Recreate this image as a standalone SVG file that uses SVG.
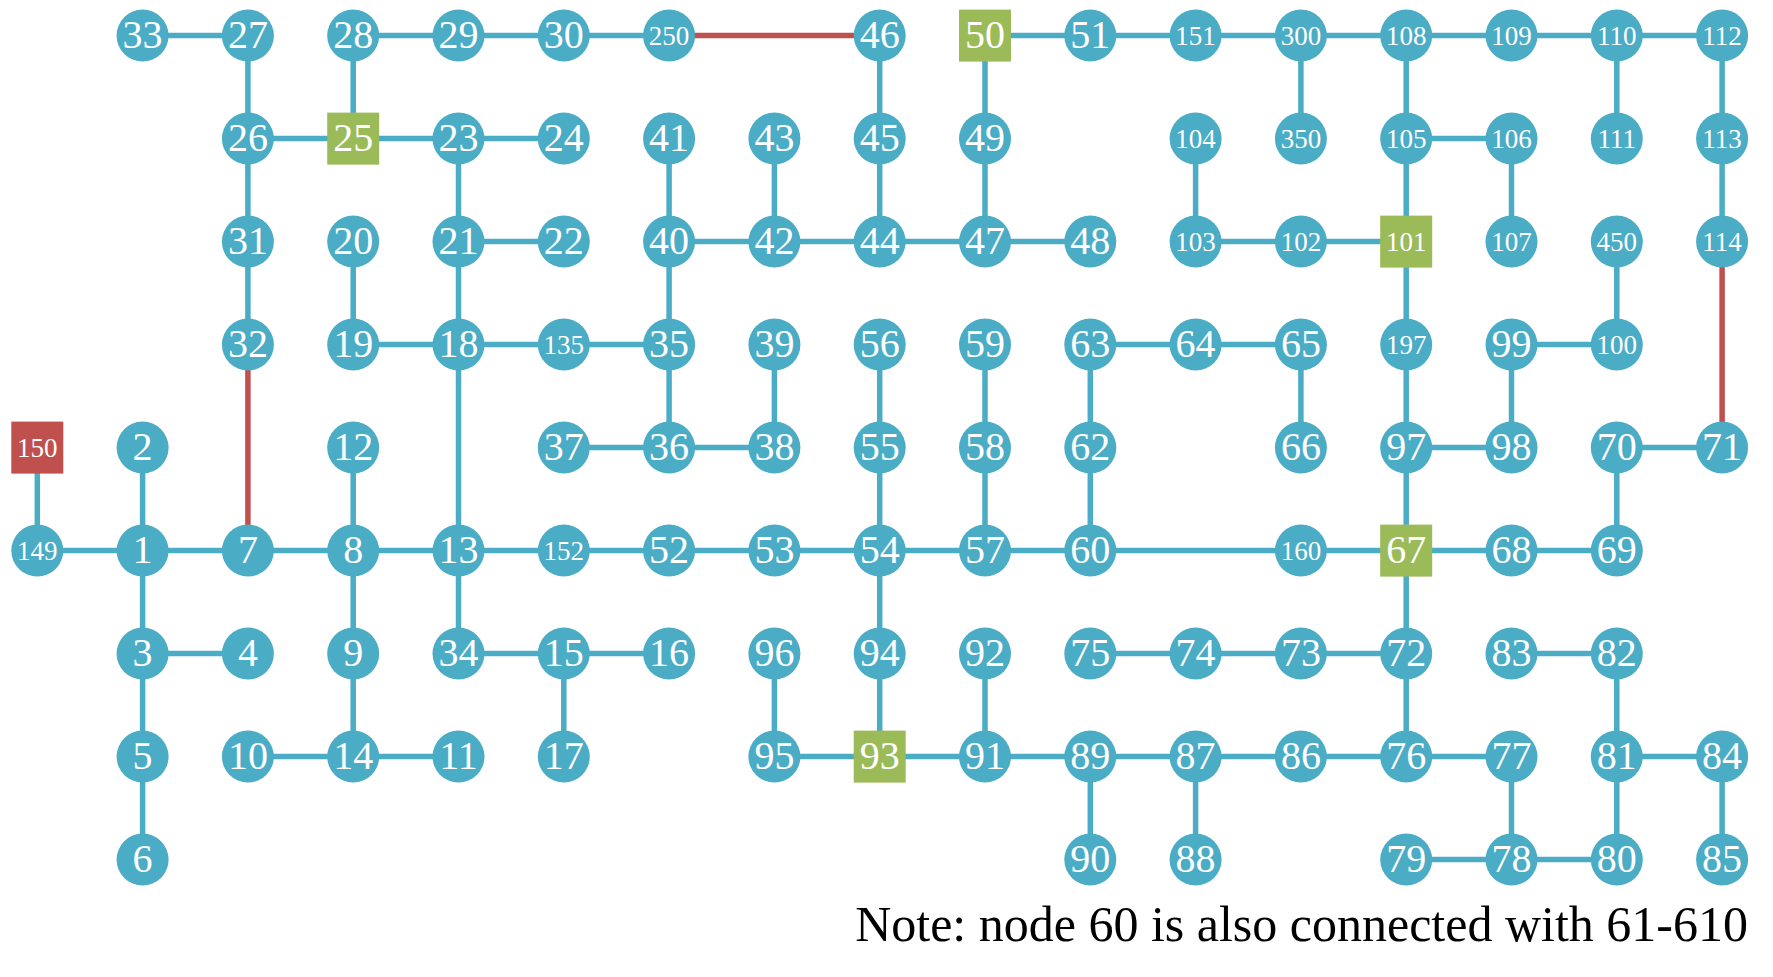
<svg xmlns="http://www.w3.org/2000/svg" width="1773" height="977" viewBox="0 0 1773 977">
<style>
.e{stroke:#4BACC6;stroke-width:5.5;fill:none}
.er{stroke:#C0504D;stroke-width:5.5;fill:none}
.n{fill:#4BACC6}
.g{fill:#9BBB59}
.r{fill:#C0504D}
text{font-family:"Liberation Serif","Times New Roman",serif;fill:#fff;text-anchor:middle}
.a{font-size:40px}
.b{font-size:27px}
.note{font-size:50px;fill:#000;text-anchor:end}
</style>
<rect width="1773" height="977" fill="#fff"/>
<g id="connectors">
<line class="e" x1="142.6" y1="35.6" x2="247.9" y2="35.6"/>
<line class="e" x1="353.2" y1="35.6" x2="669.1" y2="35.6"/>
<line class="er" x1="669.1" y1="35.6" x2="879.7" y2="35.6"/>
<line class="e" x1="985" y1="35.6" x2="1722.1" y2="35.6"/>
<line class="e" x1="247.9" y1="35.6" x2="247.9" y2="344.6"/>
<line class="e" x1="353.2" y1="35.6" x2="353.2" y2="138.6"/>
<line class="e" x1="879.7" y1="35.6" x2="879.7" y2="241.6"/>
<line class="e" x1="985" y1="35.6" x2="985" y2="241.6"/>
<line class="e" x1="1300.9" y1="35.6" x2="1300.9" y2="138.6"/>
<line class="e" x1="1406.2" y1="35.6" x2="1406.2" y2="550.6"/>
<line class="e" x1="1616.8" y1="35.6" x2="1616.8" y2="138.6"/>
<line class="e" x1="1722.1" y1="35.6" x2="1722.1" y2="241.6"/>
<line class="e" x1="247.9" y1="138.6" x2="563.8" y2="138.6"/>
<line class="e" x1="1406.2" y1="138.6" x2="1511.5" y2="138.6"/>
<line class="e" x1="458.5" y1="138.6" x2="458.5" y2="550.6"/>
<line class="e" x1="669.1" y1="138.6" x2="669.1" y2="447.6"/>
<line class="e" x1="774.4" y1="138.6" x2="774.4" y2="241.6"/>
<line class="e" x1="1195.6" y1="138.6" x2="1195.6" y2="241.6"/>
<line class="e" x1="1511.5" y1="138.6" x2="1511.5" y2="241.6"/>
<line class="e" x1="458.5" y1="241.6" x2="563.8" y2="241.6"/>
<line class="e" x1="669.1" y1="241.6" x2="1090.3" y2="241.6"/>
<line class="e" x1="1195.6" y1="241.6" x2="1406.2" y2="241.6"/>
<line class="e" x1="353.2" y1="241.6" x2="353.2" y2="344.6"/>
<line class="e" x1="1616.8" y1="241.6" x2="1616.8" y2="344.6"/>
<line class="er" x1="1722.1" y1="241.6" x2="1722.1" y2="447.6"/>
<line class="e" x1="353.2" y1="344.6" x2="669.1" y2="344.6"/>
<line class="e" x1="1090.3" y1="344.6" x2="1300.9" y2="344.6"/>
<line class="e" x1="1511.5" y1="344.6" x2="1616.8" y2="344.6"/>
<line class="er" x1="247.9" y1="344.6" x2="247.9" y2="550.6"/>
<line class="e" x1="774.4" y1="344.6" x2="774.4" y2="447.6"/>
<line class="e" x1="879.7" y1="344.6" x2="879.7" y2="756.6"/>
<line class="e" x1="985" y1="344.6" x2="985" y2="550.6"/>
<line class="e" x1="1090.3" y1="344.6" x2="1090.3" y2="550.6"/>
<line class="e" x1="1300.9" y1="344.6" x2="1300.9" y2="447.6"/>
<line class="e" x1="1511.5" y1="344.6" x2="1511.5" y2="447.6"/>
<line class="e" x1="563.8" y1="447.6" x2="774.4" y2="447.6"/>
<line class="e" x1="1406.2" y1="447.6" x2="1511.5" y2="447.6"/>
<line class="e" x1="1616.8" y1="447.6" x2="1722.1" y2="447.6"/>
<line class="e" x1="37.3" y1="447.6" x2="37.3" y2="550.6"/>
<line class="e" x1="142.6" y1="447.6" x2="142.6" y2="859.6"/>
<line class="e" x1="353.2" y1="447.6" x2="353.2" y2="756.6"/>
<line class="e" x1="1616.8" y1="447.6" x2="1616.8" y2="550.6"/>
<line class="e" x1="37.3" y1="550.6" x2="1616.8" y2="550.6"/>
<line class="e" x1="458.5" y1="550.6" x2="458.5" y2="653.6"/>
<line class="e" x1="1406.2" y1="550.6" x2="1406.2" y2="756.6"/>
<line class="e" x1="142.6" y1="653.6" x2="247.9" y2="653.6"/>
<line class="e" x1="458.5" y1="653.6" x2="669.1" y2="653.6"/>
<line class="e" x1="1090.3" y1="653.6" x2="1406.2" y2="653.6"/>
<line class="e" x1="1511.5" y1="653.6" x2="1616.8" y2="653.6"/>
<line class="e" x1="563.8" y1="653.6" x2="563.8" y2="756.6"/>
<line class="e" x1="774.4" y1="653.6" x2="774.4" y2="756.6"/>
<line class="e" x1="985" y1="653.6" x2="985" y2="756.6"/>
<line class="e" x1="1616.8" y1="653.6" x2="1616.8" y2="859.6"/>
<line class="e" x1="247.9" y1="756.6" x2="458.5" y2="756.6"/>
<line class="e" x1="774.4" y1="756.6" x2="1511.5" y2="756.6"/>
<line class="e" x1="1616.8" y1="756.6" x2="1722.1" y2="756.6"/>
<line class="e" x1="1090.3" y1="756.6" x2="1090.3" y2="859.6"/>
<line class="e" x1="1195.6" y1="756.6" x2="1195.6" y2="859.6"/>
<line class="e" x1="1511.5" y1="756.6" x2="1511.5" y2="859.6"/>
<line class="e" x1="1722.1" y1="756.6" x2="1722.1" y2="859.6"/>
<line class="e" x1="1406.2" y1="859.6" x2="1616.8" y2="859.6"/>
</g>
<g id="nodes">
<!-- row 0 -->
<g id="n33"><circle class="n" cx="142.6" cy="35.6" r="26"/><text class="a" x="142.6" y="47.6">33</text></g>
<g id="n27"><circle class="n" cx="247.9" cy="35.6" r="26"/><text class="a" x="247.9" y="47.6">27</text></g>
<g id="n28"><circle class="n" cx="353.2" cy="35.6" r="26"/><text class="a" x="353.2" y="47.6">28</text></g>
<g id="n29"><circle class="n" cx="458.5" cy="35.6" r="26"/><text class="a" x="458.5" y="47.6">29</text></g>
<g id="n30"><circle class="n" cx="563.8" cy="35.6" r="26"/><text class="a" x="563.8" y="47.6">30</text></g>
<g id="n250"><circle class="n" cx="669.1" cy="35.6" r="26"/><text class="b" x="669.1" y="44.6">250</text></g>
<g id="n46"><circle class="n" cx="879.7" cy="35.6" r="26"/><text class="a" x="879.7" y="47.6">46</text></g>
<g id="n50"><rect class="g" x="959" y="9.6" width="52" height="52"/><text class="a" x="985" y="47.6">50</text></g>
<g id="n51"><circle class="n" cx="1090.3" cy="35.6" r="26"/><text class="a" x="1090.3" y="47.6">51</text></g>
<g id="n151"><circle class="n" cx="1195.6" cy="35.6" r="26"/><text class="b" x="1195.6" y="44.6">151</text></g>
<g id="n300"><circle class="n" cx="1300.9" cy="35.6" r="26"/><text class="b" x="1300.9" y="44.6">300</text></g>
<g id="n108"><circle class="n" cx="1406.2" cy="35.6" r="26"/><text class="b" x="1406.2" y="44.6">108</text></g>
<g id="n109"><circle class="n" cx="1511.5" cy="35.6" r="26"/><text class="b" x="1511.5" y="44.6">109</text></g>
<g id="n110"><circle class="n" cx="1616.8" cy="35.6" r="26"/><text class="b" x="1616.8" y="44.6">110</text></g>
<g id="n112"><circle class="n" cx="1722.1" cy="35.6" r="26"/><text class="b" x="1722.1" y="44.6">112</text></g>
<!-- row 1 -->
<g id="n26"><circle class="n" cx="247.9" cy="138.6" r="26"/><text class="a" x="247.9" y="150.6">26</text></g>
<g id="n25"><rect class="g" x="327.2" y="112.6" width="52" height="52"/><text class="a" x="353.2" y="150.6">25</text></g>
<g id="n23"><circle class="n" cx="458.5" cy="138.6" r="26"/><text class="a" x="458.5" y="150.6">23</text></g>
<g id="n24"><circle class="n" cx="563.8" cy="138.6" r="26"/><text class="a" x="563.8" y="150.6">24</text></g>
<g id="n41"><circle class="n" cx="669.1" cy="138.6" r="26"/><text class="a" x="669.1" y="150.6">41</text></g>
<g id="n43"><circle class="n" cx="774.4" cy="138.6" r="26"/><text class="a" x="774.4" y="150.6">43</text></g>
<g id="n45"><circle class="n" cx="879.7" cy="138.6" r="26"/><text class="a" x="879.7" y="150.6">45</text></g>
<g id="n49"><circle class="n" cx="985" cy="138.6" r="26"/><text class="a" x="985" y="150.6">49</text></g>
<g id="n104"><circle class="n" cx="1195.6" cy="138.6" r="26"/><text class="b" x="1195.6" y="147.6">104</text></g>
<g id="n350"><circle class="n" cx="1300.9" cy="138.6" r="26"/><text class="b" x="1300.9" y="147.6">350</text></g>
<g id="n105"><circle class="n" cx="1406.2" cy="138.6" r="26"/><text class="b" x="1406.2" y="147.6">105</text></g>
<g id="n106"><circle class="n" cx="1511.5" cy="138.6" r="26"/><text class="b" x="1511.5" y="147.6">106</text></g>
<g id="n111"><circle class="n" cx="1616.8" cy="138.6" r="26"/><text class="b" x="1616.8" y="147.6">111</text></g>
<g id="n113"><circle class="n" cx="1722.1" cy="138.6" r="26"/><text class="b" x="1722.1" y="147.6">113</text></g>
<!-- row 2 -->
<g id="n31"><circle class="n" cx="247.9" cy="241.6" r="26"/><text class="a" x="247.9" y="253.6">31</text></g>
<g id="n20"><circle class="n" cx="353.2" cy="241.6" r="26"/><text class="a" x="353.2" y="253.6">20</text></g>
<g id="n21"><circle class="n" cx="458.5" cy="241.6" r="26"/><text class="a" x="458.5" y="253.6">21</text></g>
<g id="n22"><circle class="n" cx="563.8" cy="241.6" r="26"/><text class="a" x="563.8" y="253.6">22</text></g>
<g id="n40"><circle class="n" cx="669.1" cy="241.6" r="26"/><text class="a" x="669.1" y="253.6">40</text></g>
<g id="n42"><circle class="n" cx="774.4" cy="241.6" r="26"/><text class="a" x="774.4" y="253.6">42</text></g>
<g id="n44"><circle class="n" cx="879.7" cy="241.6" r="26"/><text class="a" x="879.7" y="253.6">44</text></g>
<g id="n47"><circle class="n" cx="985" cy="241.6" r="26"/><text class="a" x="985" y="253.6">47</text></g>
<g id="n48"><circle class="n" cx="1090.3" cy="241.6" r="26"/><text class="a" x="1090.3" y="253.6">48</text></g>
<g id="n103"><circle class="n" cx="1195.6" cy="241.6" r="26"/><text class="b" x="1195.6" y="250.6">103</text></g>
<g id="n102"><circle class="n" cx="1300.9" cy="241.6" r="26"/><text class="b" x="1300.9" y="250.6">102</text></g>
<g id="n101"><rect class="g" x="1380.2" y="215.6" width="52" height="52"/><text class="b" x="1406.2" y="250.6">101</text></g>
<g id="n107"><circle class="n" cx="1511.5" cy="241.6" r="26"/><text class="b" x="1511.5" y="250.6">107</text></g>
<g id="n450"><circle class="n" cx="1616.8" cy="241.6" r="26"/><text class="b" x="1616.8" y="250.6">450</text></g>
<g id="n114"><circle class="n" cx="1722.1" cy="241.6" r="26"/><text class="b" x="1722.1" y="250.6">114</text></g>
<!-- row 3 -->
<g id="n32"><circle class="n" cx="247.9" cy="344.6" r="26"/><text class="a" x="247.9" y="356.6">32</text></g>
<g id="n19"><circle class="n" cx="353.2" cy="344.6" r="26"/><text class="a" x="353.2" y="356.6">19</text></g>
<g id="n18"><circle class="n" cx="458.5" cy="344.6" r="26"/><text class="a" x="458.5" y="356.6">18</text></g>
<g id="n135"><circle class="n" cx="563.8" cy="344.6" r="26"/><text class="b" x="563.8" y="353.6">135</text></g>
<g id="n35"><circle class="n" cx="669.1" cy="344.6" r="26"/><text class="a" x="669.1" y="356.6">35</text></g>
<g id="n39"><circle class="n" cx="774.4" cy="344.6" r="26"/><text class="a" x="774.4" y="356.6">39</text></g>
<g id="n56"><circle class="n" cx="879.7" cy="344.6" r="26"/><text class="a" x="879.7" y="356.6">56</text></g>
<g id="n59"><circle class="n" cx="985" cy="344.6" r="26"/><text class="a" x="985" y="356.6">59</text></g>
<g id="n63"><circle class="n" cx="1090.3" cy="344.6" r="26"/><text class="a" x="1090.3" y="356.6">63</text></g>
<g id="n64"><circle class="n" cx="1195.6" cy="344.6" r="26"/><text class="a" x="1195.6" y="356.6">64</text></g>
<g id="n65"><circle class="n" cx="1300.9" cy="344.6" r="26"/><text class="a" x="1300.9" y="356.6">65</text></g>
<g id="n197"><circle class="n" cx="1406.2" cy="344.6" r="26"/><text class="b" x="1406.2" y="353.6">197</text></g>
<g id="n99"><circle class="n" cx="1511.5" cy="344.6" r="26"/><text class="a" x="1511.5" y="356.6">99</text></g>
<g id="n100"><circle class="n" cx="1616.8" cy="344.6" r="26"/><text class="b" x="1616.8" y="353.6">100</text></g>
<!-- row 4 -->
<g id="n150"><rect class="r" x="11.3" y="421.6" width="52" height="52"/><text class="b" x="37.3" y="456.6">150</text></g>
<g id="n2"><circle class="n" cx="142.6" cy="447.6" r="26"/><text class="a" x="142.6" y="459.6">2</text></g>
<g id="n12"><circle class="n" cx="353.2" cy="447.6" r="26"/><text class="a" x="353.2" y="459.6">12</text></g>
<g id="n37"><circle class="n" cx="563.8" cy="447.6" r="26"/><text class="a" x="563.8" y="459.6">37</text></g>
<g id="n36"><circle class="n" cx="669.1" cy="447.6" r="26"/><text class="a" x="669.1" y="459.6">36</text></g>
<g id="n38"><circle class="n" cx="774.4" cy="447.6" r="26"/><text class="a" x="774.4" y="459.6">38</text></g>
<g id="n55"><circle class="n" cx="879.7" cy="447.6" r="26"/><text class="a" x="879.7" y="459.6">55</text></g>
<g id="n58"><circle class="n" cx="985" cy="447.6" r="26"/><text class="a" x="985" y="459.6">58</text></g>
<g id="n62"><circle class="n" cx="1090.3" cy="447.6" r="26"/><text class="a" x="1090.3" y="459.6">62</text></g>
<g id="n66"><circle class="n" cx="1300.9" cy="447.6" r="26"/><text class="a" x="1300.9" y="459.6">66</text></g>
<g id="n97"><circle class="n" cx="1406.2" cy="447.6" r="26"/><text class="a" x="1406.2" y="459.6">97</text></g>
<g id="n98"><circle class="n" cx="1511.5" cy="447.6" r="26"/><text class="a" x="1511.5" y="459.6">98</text></g>
<g id="n70"><circle class="n" cx="1616.8" cy="447.6" r="26"/><text class="a" x="1616.8" y="459.6">70</text></g>
<g id="n71"><circle class="n" cx="1722.1" cy="447.6" r="26"/><text class="a" x="1722.1" y="459.6">71</text></g>
<!-- row 5 -->
<g id="n149"><circle class="n" cx="37.3" cy="550.6" r="26"/><text class="b" x="37.3" y="559.6">149</text></g>
<g id="n1"><circle class="n" cx="142.6" cy="550.6" r="26"/><text class="a" x="142.6" y="562.6">1</text></g>
<g id="n7"><circle class="n" cx="247.9" cy="550.6" r="26"/><text class="a" x="247.9" y="562.6">7</text></g>
<g id="n8"><circle class="n" cx="353.2" cy="550.6" r="26"/><text class="a" x="353.2" y="562.6">8</text></g>
<g id="n13"><circle class="n" cx="458.5" cy="550.6" r="26"/><text class="a" x="458.5" y="562.6">13</text></g>
<g id="n152"><circle class="n" cx="563.8" cy="550.6" r="26"/><text class="b" x="563.8" y="559.6">152</text></g>
<g id="n52"><circle class="n" cx="669.1" cy="550.6" r="26"/><text class="a" x="669.1" y="562.6">52</text></g>
<g id="n53"><circle class="n" cx="774.4" cy="550.6" r="26"/><text class="a" x="774.4" y="562.6">53</text></g>
<g id="n54"><circle class="n" cx="879.7" cy="550.6" r="26"/><text class="a" x="879.7" y="562.6">54</text></g>
<g id="n57"><circle class="n" cx="985" cy="550.6" r="26"/><text class="a" x="985" y="562.6">57</text></g>
<g id="n60"><circle class="n" cx="1090.3" cy="550.6" r="26"/><text class="a" x="1090.3" y="562.6">60</text></g>
<g id="n160"><circle class="n" cx="1300.9" cy="550.6" r="26"/><text class="b" x="1300.9" y="559.6">160</text></g>
<g id="n67"><rect class="g" x="1380.2" y="524.6" width="52" height="52"/><text class="a" x="1406.2" y="562.6">67</text></g>
<g id="n68"><circle class="n" cx="1511.5" cy="550.6" r="26"/><text class="a" x="1511.5" y="562.6">68</text></g>
<g id="n69"><circle class="n" cx="1616.8" cy="550.6" r="26"/><text class="a" x="1616.8" y="562.6">69</text></g>
<!-- row 6 -->
<g id="n3"><circle class="n" cx="142.6" cy="653.6" r="26"/><text class="a" x="142.6" y="665.6">3</text></g>
<g id="n4"><circle class="n" cx="247.9" cy="653.6" r="26"/><text class="a" x="247.9" y="665.6">4</text></g>
<g id="n9"><circle class="n" cx="353.2" cy="653.6" r="26"/><text class="a" x="353.2" y="665.6">9</text></g>
<g id="n34"><circle class="n" cx="458.5" cy="653.6" r="26"/><text class="a" x="458.5" y="665.6">34</text></g>
<g id="n15"><circle class="n" cx="563.8" cy="653.6" r="26"/><text class="a" x="563.8" y="665.6">15</text></g>
<g id="n16"><circle class="n" cx="669.1" cy="653.6" r="26"/><text class="a" x="669.1" y="665.6">16</text></g>
<g id="n96"><circle class="n" cx="774.4" cy="653.6" r="26"/><text class="a" x="774.4" y="665.6">96</text></g>
<g id="n94"><circle class="n" cx="879.7" cy="653.6" r="26"/><text class="a" x="879.7" y="665.6">94</text></g>
<g id="n92"><circle class="n" cx="985" cy="653.6" r="26"/><text class="a" x="985" y="665.6">92</text></g>
<g id="n75"><circle class="n" cx="1090.3" cy="653.6" r="26"/><text class="a" x="1090.3" y="665.6">75</text></g>
<g id="n74"><circle class="n" cx="1195.6" cy="653.6" r="26"/><text class="a" x="1195.6" y="665.6">74</text></g>
<g id="n73"><circle class="n" cx="1300.9" cy="653.6" r="26"/><text class="a" x="1300.9" y="665.6">73</text></g>
<g id="n72"><circle class="n" cx="1406.2" cy="653.6" r="26"/><text class="a" x="1406.2" y="665.6">72</text></g>
<g id="n83"><circle class="n" cx="1511.5" cy="653.6" r="26"/><text class="a" x="1511.5" y="665.6">83</text></g>
<g id="n82"><circle class="n" cx="1616.8" cy="653.6" r="26"/><text class="a" x="1616.8" y="665.6">82</text></g>
<!-- row 7 -->
<g id="n5"><circle class="n" cx="142.6" cy="756.6" r="26"/><text class="a" x="142.6" y="768.6">5</text></g>
<g id="n10"><circle class="n" cx="247.9" cy="756.6" r="26"/><text class="a" x="247.9" y="768.6">10</text></g>
<g id="n14"><circle class="n" cx="353.2" cy="756.6" r="26"/><text class="a" x="353.2" y="768.6">14</text></g>
<g id="n11"><circle class="n" cx="458.5" cy="756.6" r="26"/><text class="a" x="458.5" y="768.6">11</text></g>
<g id="n17"><circle class="n" cx="563.8" cy="756.6" r="26"/><text class="a" x="563.8" y="768.6">17</text></g>
<g id="n95"><circle class="n" cx="774.4" cy="756.6" r="26"/><text class="a" x="774.4" y="768.6">95</text></g>
<g id="n93"><rect class="g" x="853.7" y="730.6" width="52" height="52"/><text class="a" x="879.7" y="768.6">93</text></g>
<g id="n91"><circle class="n" cx="985" cy="756.6" r="26"/><text class="a" x="985" y="768.6">91</text></g>
<g id="n89"><circle class="n" cx="1090.3" cy="756.6" r="26"/><text class="a" x="1090.3" y="768.6">89</text></g>
<g id="n87"><circle class="n" cx="1195.6" cy="756.6" r="26"/><text class="a" x="1195.6" y="768.6">87</text></g>
<g id="n86"><circle class="n" cx="1300.9" cy="756.6" r="26"/><text class="a" x="1300.9" y="768.6">86</text></g>
<g id="n76"><circle class="n" cx="1406.2" cy="756.6" r="26"/><text class="a" x="1406.2" y="768.6">76</text></g>
<g id="n77"><circle class="n" cx="1511.5" cy="756.6" r="26"/><text class="a" x="1511.5" y="768.6">77</text></g>
<g id="n81"><circle class="n" cx="1616.8" cy="756.6" r="26"/><text class="a" x="1616.8" y="768.6">81</text></g>
<g id="n84"><circle class="n" cx="1722.1" cy="756.6" r="26"/><text class="a" x="1722.1" y="768.6">84</text></g>
<!-- row 8 -->
<g id="n6"><circle class="n" cx="142.6" cy="859.6" r="26"/><text class="a" x="142.6" y="871.6">6</text></g>
<g id="n90"><circle class="n" cx="1090.3" cy="859.6" r="26"/><text class="a" x="1090.3" y="871.6">90</text></g>
<g id="n88"><circle class="n" cx="1195.6" cy="859.6" r="26"/><text class="a" x="1195.6" y="871.6">88</text></g>
<g id="n79"><circle class="n" cx="1406.2" cy="859.6" r="26"/><text class="a" x="1406.2" y="871.6">79</text></g>
<g id="n78"><circle class="n" cx="1511.5" cy="859.6" r="26"/><text class="a" x="1511.5" y="871.6">78</text></g>
<g id="n80"><circle class="n" cx="1616.8" cy="859.6" r="26"/><text class="a" x="1616.8" y="871.6">80</text></g>
<g id="n85"><circle class="n" cx="1722.1" cy="859.6" r="26"/><text class="a" x="1722.1" y="871.6">85</text></g>
</g>
<text id="note" class="note" x="1748" y="941">Note: node 60 is also connected with 61-610</text>
</svg>
